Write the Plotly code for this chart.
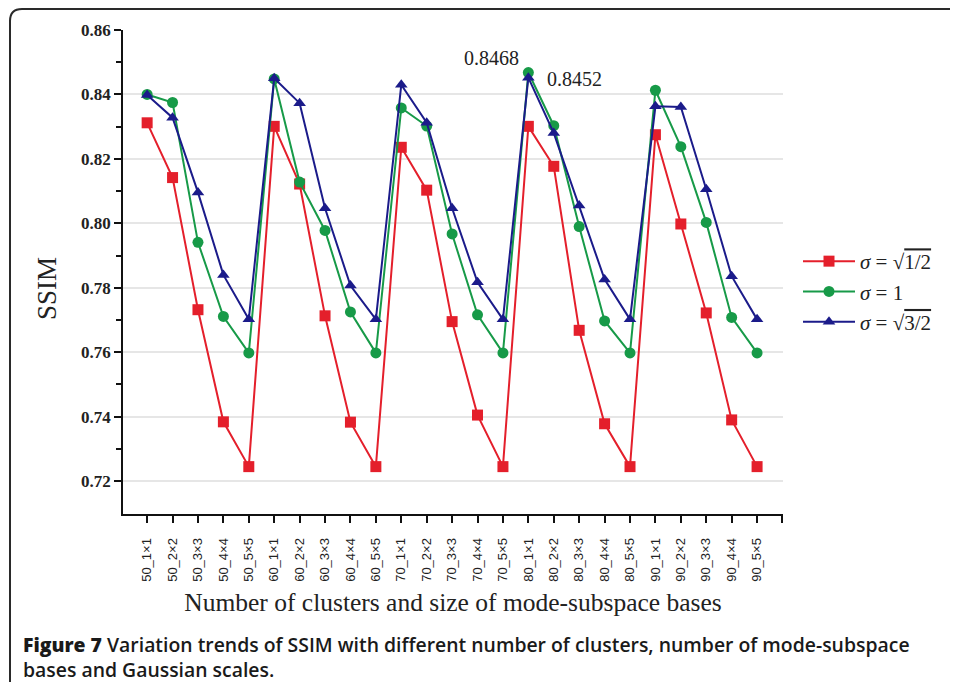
import plotly.graph_objects as go

categories = ["50_1×1", "50_2×2", "50_3×3", "50_4×4", "50_5×5",
              "60_1×1", "60_2×2", "60_3×3", "60_4×4", "60_5×5",
              "70_1×1", "70_2×2", "70_3×3", "70_4×4", "70_5×5",
              "80_1×1", "80_2×2", "80_3×3", "80_4×4", "80_5×5",
              "90_1×1", "90_2×2", "90_3×3", "90_4×4", "90_5×5"]

ssim_sigma_sqrt_half = [0.8312, 0.8142, 0.7732, 0.7384, 0.7245,
                        0.8301, 0.8122, 0.7713, 0.7383, 0.7245,
                        0.8236, 0.8103, 0.7695, 0.7405, 0.7245,
                        0.8301, 0.8177, 0.7668, 0.7378, 0.7245,
                        0.8275, 0.7998, 0.7722, 0.7390, 0.7245]

ssim_sigma_one = [0.8400, 0.8375, 0.7941, 0.7711, 0.7598,
                  0.8448, 0.8128, 0.7978, 0.7725, 0.7598,
                  0.8358, 0.8302, 0.7967, 0.7716, 0.7598,
                  0.8468, 0.8303, 0.7990, 0.7697, 0.7598,
                  0.8413, 0.8238, 0.8003, 0.7708, 0.7598]

ssim_sigma_sqrt_three_half = [0.8398, 0.8328, 0.8096, 0.7840, 0.7702,
                              0.8450, 0.8373, 0.8047, 0.7807, 0.7702,
                              0.8430, 0.8312, 0.8047, 0.7817, 0.7702,
                              0.8452, 0.8280, 0.8055, 0.7826, 0.7702,
                              0.8363, 0.8361, 0.8106, 0.7836, 0.7702]

series_names = ["<i>σ</i> = √<span style='text-decoration:overline'>1/2</span>",
                "<i>σ</i> = 1",
                "<i>σ</i> = √<span style='text-decoration:overline'>3/2</span>"]
annot_values = [0.8468, 0.8452]

x_idx = list(range(len(categories)))

fig = go.Figure()
styles = [("#e41f2b", "square"), ("#179a48", "circle"), ("#1b1b8a", "triangle-up")]
for vals, name, (col, sym) in zip(
        [ssim_sigma_sqrt_half, ssim_sigma_one, ssim_sigma_sqrt_three_half], series_names, styles):
    fig.add_trace(go.Scatter(
        x=x_idx, y=vals, mode="lines+markers", name=name,
        line=dict(color=col, width=2),
        marker=dict(symbol=sym, size=11, color=col, line=dict(width=0)),
    ))

serif = "Liberation Serif, Times New Roman, serif"

fig.add_annotation(x=15, y=annot_values[0], text=f"{annot_values[0]:.4f}", showarrow=False,
                   xanchor="right", yanchor="bottom", xshift=-7, yshift=2,
                   font=dict(family=serif, size=20, color="#222"))
fig.add_annotation(x=15, y=annot_values[1], text=f"{annot_values[1]:.4f}", showarrow=False,
                   xanchor="left", yanchor="middle", xshift=17, yshift=-1,
                   font=dict(family=serif, size=20, color="#222"))

# Page has an 8px body margin: the figure div starts at (8, 8)
OFF = 8
FW, FH = 958 - OFF, 682 - OFF
L, T = 123 - OFF, 30 - OFF
W, H = 660, 484

def px(xp):
    return (xp - 123) / W
def py(yp):
    return (514 - yp) / H

# y-axis title as annotation (placed below the axis centre, as in the reference)
fig.add_annotation(xref="paper", yref="paper", x=px(47), y=py(289), text="SSIM",
                   textangle=-90, showarrow=False, xanchor="center", yanchor="middle",
                   font=dict(family=serif, size=27, color="#222"))

# caption
fig.add_annotation(xref="paper", yref="paper", x=px(21), y=py(629),
                   xanchor="left", yanchor="top", align="left", showarrow=False,
                   text="<span style='font-weight:800'>Figure 7</span> Variation trends of SSIM with different number of clusters, number of mode-subspace<br>bases and Gaussian scales.",
                   font=dict(family="Open Sans, Noto Sans, sans-serif", size=19.4, color="#1a1a1a", weight=600))

# rounded frame around the figure
r = 12
top = 9
path = (f"M {px(10)},{py(700)} L {px(10)},{py(top + r)} "
        f"Q {px(10)},{py(top)} {px(10 + r)},{py(top)} L {px(975)},{py(top)}")
fig.add_shape(type="path", xref="paper", yref="paper", path=path,
              line=dict(color="#2a2a2a", width=2))

fig.update_layout(
    width=FW, height=FH,
    margin=dict(l=L, r=FW - L - W, t=T, b=FH - T - H, autoexpand=False),
    paper_bgcolor="white", plot_bgcolor="white",
    showlegend=True,
    legend=dict(x=px(798), y=py(241), xanchor="left", yanchor="top",
                font=dict(family=serif, size=21, color="#222"),
                bgcolor="rgba(0,0,0,0)", tracegroupgap=0, itemwidth=52),
    xaxis=dict(range=[-0.95, 25.02], tickmode="array",
               tickvals=list(range(-1, 26)),
               ticktext=[""] + categories + [""],
               tickangle=-90, ticks="outside", ticklen=7, tickwidth=1.5, tickcolor="#111",
               ticklabelstandoff=10,
               showline=True, linecolor="#111", linewidth=1.8, showgrid=False, zeroline=False,
               tickfont=dict(family="Liberation Sans, Arial, sans-serif", size=13, color="#222"),
               title=dict(text="Number of clusters and size of mode-subspace bases",
                          font=dict(family=serif, size=25.5, color="#222"), standoff=12)),
    yaxis=dict(range=[0.7098, 0.86], tickmode="array",
               tickvals=[0.72, 0.74, 0.76, 0.78, 0.80, 0.82, 0.84, 0.86],
               ticktext=["0.72", "0.74", "0.76", "0.78", "0.80", "0.82", "0.84", "0.86"],
               ticks="outside", ticklen=7, tickwidth=1.5, tickcolor="#111",
               minor=dict(tickvals=[0.73, 0.75, 0.77, 0.79, 0.81, 0.83, 0.85],
                          ticks="outside", ticklen=5, tickwidth=1.5, tickcolor="#111", showgrid=False),
               showline=True, linecolor="#111", linewidth=1.8,
               showgrid=True, gridcolor="#e6e6e6", gridwidth=1.5, zeroline=False,
               tickfont=dict(family=serif, size=17, color="#222", weight="bold")),
)

fig.write_html("out.html")
